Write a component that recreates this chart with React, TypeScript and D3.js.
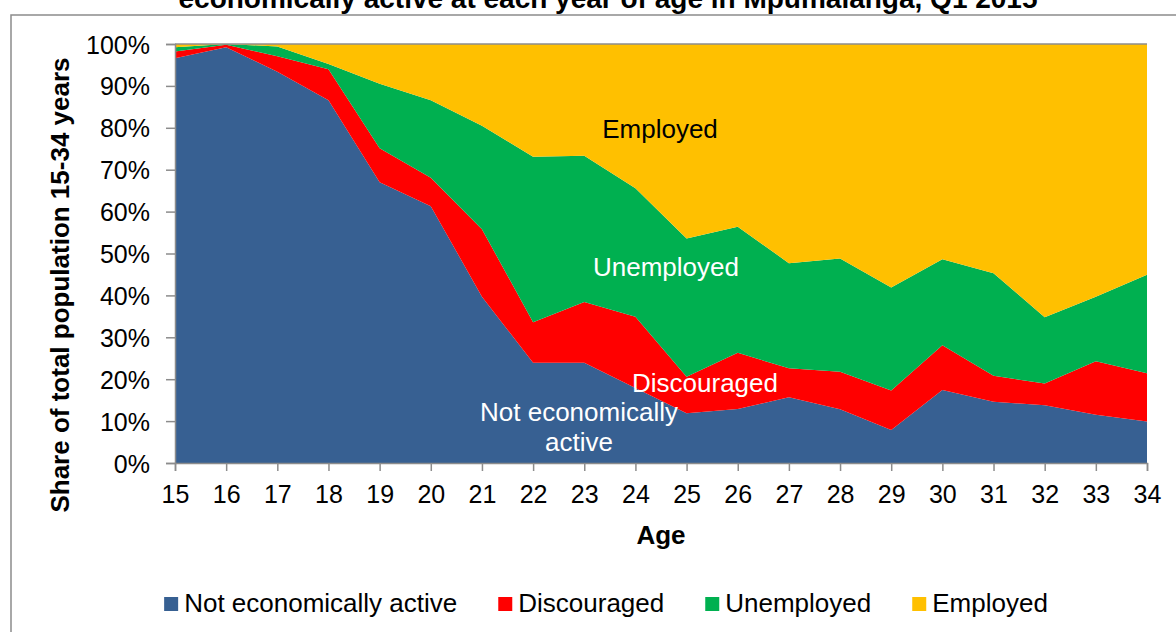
import React, { useRef, useEffect } from 'react';
import * as d3 from 'd3';

// age 15..34, share of population (%) per status
const ages = [15, 16, 17, 18, 19, 20, 21, 22, 23, 24, 25, 26, 27, 28, 29, 30, 31, 32, 33, 34];
const notActive = [96.6, 99.2, 93.4, 86.6, 67.0, 61.3, 39.7, 23.9, 23.9, 17.9, 11.9, 12.9, 15.7, 12.8, 7.9, 17.4, 14.6, 13.8, 11.5, 9.9];
const discouraged = [1.6, 0.6, 3.7, 7.4, 8.1, 6.8, 16.1, 9.7, 14.5, 17.0, 8.7, 13.4, 6.9, 9.0, 9.4, 10.7, 6.2, 5.2, 12.8, 11.5];
const unemployed = [1.0, 0.2, 2.3, 1.2, 15.4, 18.5, 24.7, 39.5, 34.9, 30.7, 33.0, 30.1, 25.1, 27.0, 24.6, 20.5, 24.5, 15.8, 15.4, 23.5];
const employed = [0.8, 0.0, 0.6, 4.8, 9.5, 13.4, 19.5, 26.9, 26.7, 34.4, 46.4, 43.6, 52.3, 51.2, 58.1, 51.4, 54.7, 65.2, 60.3, 55.1];

const seriesNames = ['Not economically active', 'Discouraged', 'Unemployed', 'Employed'];
const seriesColors = ['#376092', '#FF0000', '#00B050', '#FFC000'];
const yTicks = [0, 10, 20, 30, 40, 50, 60, 70, 80, 90, 100];

const title = 'economically active at each year of age in Mpumalanga, Q1 2015';

const App = () => {
  const ref = useRef<SVGSVGElement>(null);

  useEffect(() => {
    const svg = d3.select(ref.current);
    svg.selectAll('*').remove();

    const W = 1176, H = 632;
    const left = 175, right = 1147, top = 44, bottom = 463;
    const font = '"Liberation Sans", Arial, sans-serif';

    // outer frame
    svg.append('rect')
      .attr('x', 11).attr('y', 15)
      .attr('width', W + 20).attr('height', H + 20)
      .attr('fill', 'none').attr('stroke', '#8c8c8c').attr('stroke-width', 1.5);

    // title is cut off at the top, as in the source image
    svg.append('text')
      .attr('x', 608).attr('y', 8)
      .attr('text-anchor', 'middle')
      .attr('font-family', font).attr('font-weight', 'bold').attr('font-size', 28)
      .text(title);

    const x = d3.scaleLinear().domain([15, 34]).range([left, right]);
    const y = d3.scaleLinear().domain([0, 100]).range([bottom, top]);

    const rows = ages.map((a, i) => ({
      age: a,
      s0: notActive[i], s1: discouraged[i], s2: unemployed[i], s3: employed[i],
    }));
    const stack = d3.stack<any>().keys(['s0', 's1', 's2', 's3']);
    const layers = stack(rows);

    const area = d3.area<any>()
      .x(d => x(d.data.age))
      .y0(d => y(d[0]))
      .y1(d => y(Math.min(100, d[1])));

    svg.append('g').selectAll('path')
      .data(layers)
      .join('path')
      .attr('d', area)
      .attr('fill', (_, i) => seriesColors[i]);

    // plot top border
    svg.append('line')
      .attr('x1', left).attr('x2', right).attr('y1', top).attr('y2', top)
      .attr('stroke', '#8c8c8c').attr('stroke-width', 1.5);

    // y axis
    const yAxis = svg.append('g').attr('transform', `translate(${left},0)`)
      .call(d3.axisLeft(y).tickValues(yTicks).tickSize(9).tickFormat(d => `${d}%`));
    yAxis.select('.domain').attr('stroke', '#8c8c8c').attr('stroke-width', 1.5);
    yAxis.selectAll('.tick line').attr('stroke', '#8c8c8c').attr('stroke-width', 1.5);
    yAxis.selectAll('.tick text')
      .attr('font-family', font).attr('font-size', 25).attr('fill', '#000')
      .attr('x', -25).attr('dy', '0.36em');

    // x axis
    const xAxis = svg.append('g').attr('transform', `translate(0,${bottom})`)
      .call(d3.axisBottom(x).tickValues(ages).tickSize(8).tickFormat(d3.format('d')));
    xAxis.select('.domain').attr('stroke', '#8c8c8c').attr('stroke-width', 1.5);
    xAxis.selectAll('.tick line').attr('stroke', '#8c8c8c').attr('stroke-width', 1.5);
    xAxis.selectAll('.tick text')
      .attr('font-family', font).attr('font-size', 25).attr('fill', '#000')
      .attr('y', 40).attr('dy', 0);

    // axis titles
    svg.append('text')
      .attr('transform', 'translate(69,285) rotate(-90)')
      .attr('text-anchor', 'middle')
      .attr('font-family', font).attr('font-weight', 'bold').attr('font-size', 26)
      .text('Share of total population 15-34 years');

    svg.append('text')
      .attr('x', (left + right) / 2).attr('y', 544)
      .attr('text-anchor', 'middle')
      .attr('font-family', font).attr('font-weight', 'bold').attr('font-size', 26)
      .text('Age');

    // in-chart labels
    const label = (tx: number, ty: number, t: string, c: string) =>
      svg.append('text')
        .attr('x', tx).attr('y', ty)
        .attr('text-anchor', 'middle')
        .attr('font-family', font).attr('font-size', 26).attr('fill', c)
        .text(t);
    label(660, 138, 'Employed', '#000');
    label(666, 276, 'Unemployed', '#fff');
    label(705, 392, 'Discouraged', '#fff');
    label(579, 421, 'Not economically', '#fff');
    label(579, 451, 'active', '#fff');

    // legend
    const lg = svg.append('g');
    let lx = 0;
    seriesNames.forEach((name, i) => {
      lg.append('rect')
        .attr('x', lx).attr('y', 597).attr('width', 14).attr('height', 14)
        .attr('fill', seriesColors[i]);
      const t = lg.append('text')
        .attr('x', lx + 20).attr('y', 612)
        .attr('font-family', font).attr('font-size', 26)
        .text(name);
      const w = (t.node() as SVGTextElement).getComputedTextLength();
      lx += 20 + w + 41;
    });
    const total = lx - 41;
    lg.attr('transform', `translate(${606 - total / 2},0)`);
  }, []);

  return (
    <svg ref={ref} width={1176} height={632}
      style={{ position: 'absolute', left: 0, top: 0, background: '#fff' }} />
  );
};

export default App;
